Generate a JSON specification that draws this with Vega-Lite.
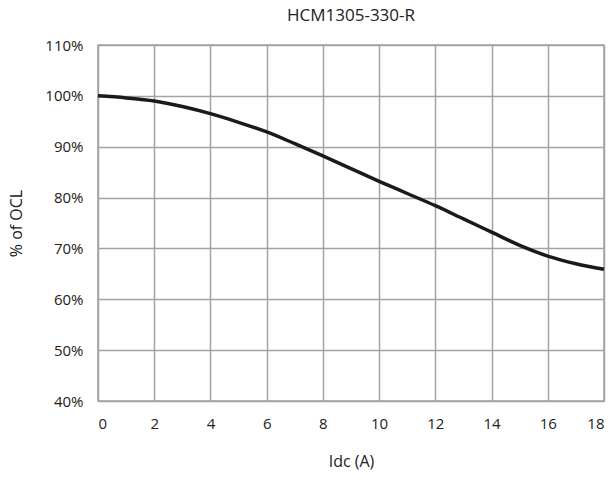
{
  "$schema": "https://vega.github.io/schema/vega-lite/v6.json",
  "width": 506,
  "height": 356,
  "autosize": {"type": "none"},
  "padding": {"left": 98, "top": 45, "right": 12, "bottom": 79},
  "background": "white",
  "title": {"text": "HCM1305-330-R", "fontSize": 17, "font": "Open Sans", "fontWeight": "normal", "color": "#222222", "anchor": "middle", "offset": 13},
  "config": {
    "view": {"stroke": "#a3a3a3", "strokeWidth": 1.5},
    "axis": {"labelFont": "Open Sans", "titleFont": "Open Sans", "labelFontSize": 15, "titleFontSize": 16, "labelColor": "#222222", "titleColor": "#222222", "titleFontWeight": "normal", "gridColor": "#a3a3a3", "gridWidth": 1.5, "gridOpacity": 1, "domain": false, "ticks": false}
  },
  "data": {"values": [
    {"i": 0, "p": 100.0},
    {"i": 1, "p": 99.6},
    {"i": 2, "p": 99.0},
    {"i": 3, "p": 97.9},
    {"i": 4, "p": 96.5},
    {"i": 5, "p": 94.8},
    {"i": 6, "p": 92.9},
    {"i": 7, "p": 90.6},
    {"i": 8, "p": 88.2},
    {"i": 9, "p": 85.7},
    {"i": 10, "p": 83.2},
    {"i": 11, "p": 80.8},
    {"i": 12, "p": 78.4},
    {"i": 13, "p": 75.8},
    {"i": 14, "p": 73.2},
    {"i": 15, "p": 70.6},
    {"i": 16, "p": 68.5},
    {"i": 17, "p": 67.0},
    {"i": 18, "p": 65.9}
  ]},
  "mark": {"type": "line", "color": "#1a1a1a", "strokeWidth": 3.5, "interpolate": "monotone"},
  "encoding": {
    "x": {"field": "i", "type": "quantitative", "scale": {"domain": [0, 18], "nice": false}, "axis": {"values": [0,2,4,6,8,10,12,14,16,18], "title": "Idc (A)", "labelPadding": 15, "titlePadding": 22}},
    "y": {"field": "p", "type": "quantitative", "scale": {"domain": [40, 110], "nice": false}, "axis": {"values": [40,50,60,70,80,90,100,110], "labelExpr": "datum.value + '%'", "title": "%  of OCL", "labelPadding": 15, "titlePadding": 20}}
  }
}
